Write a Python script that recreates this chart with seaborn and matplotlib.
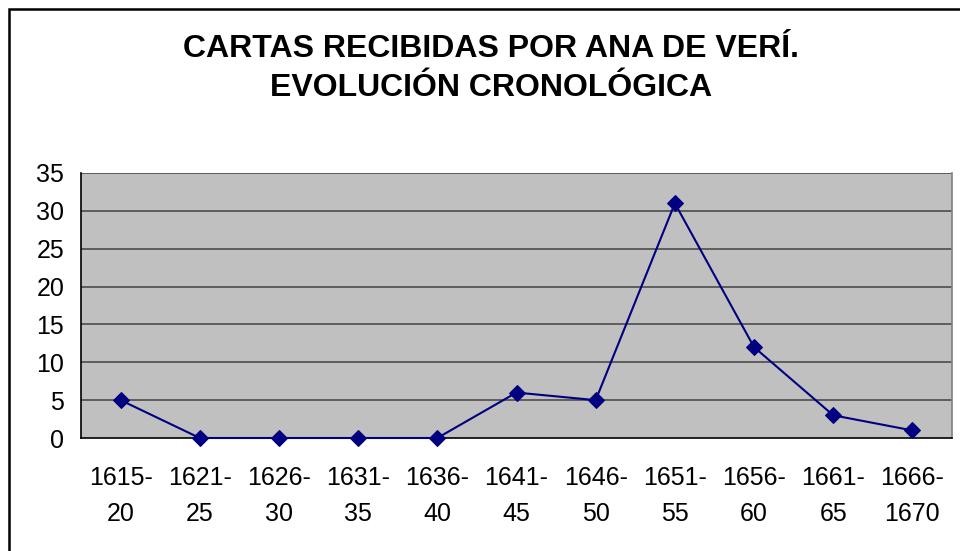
import matplotlib
matplotlib.use("Agg")
import matplotlib.pyplot as plt
import seaborn as sns
import pandas as pd
from matplotlib.patches import Rectangle
from matplotlib.ticker import FixedLocator

categories = ["1615-\n20", "1621-\n25", "1626-\n30", "1631-\n35", "1636-\n40", "1641-\n45",
              "1646-\n50", "1651-\n55", "1656-\n60", "1661-\n65", "1666-\n1670"]
values = [5, 0, 0, 0, 0, 6, 5, 31, 12, 3, 1]
yticks = [0, 5, 10, 15, 20, 25, 30, 35]
title = "CARTAS RECIBIDAS POR ANA DE VERÍ.\nEVOLUCIÓN CRONOLÓGICA"

sns.set_style("white")
plt.rcParams['font.family'] = ['Liberation Sans', 'DejaVu Sans']
plt.rcParams['text.color'] = 'black'
plt.rcParams['xtick.color'] = 'black'
plt.rcParams['ytick.color'] = 'black'

df = pd.DataFrame({"x": list(range(len(categories))), "y": values})

fig = plt.figure(figsize=(9.6, 5.51), dpi=100)
ax = fig.add_axes([81/960, 1-438/551, (952-81)/960, (438-173)/551])
ax.set_facecolor("#C0C0C0")

sns.lineplot(data=df, x="x", y="y", ax=ax, color="#000080", marker="D",
             markersize=8, markeredgecolor="#000080", linewidth=1.5, zorder=3,
             clip_on=False)

ax.set_xlim(-0.5, len(categories) - 0.5)
ax.set_ylim(0, 35)
ax.set_yticks(yticks)
ax.tick_params(axis="y", labelsize=18, length=8, width=1, color="#333333", pad=4,
               labelcolor="black")
for y in yticks[1:]:
    ax.axhline(y, color="#555555", linewidth=1.3, zorder=1)

ax.set_xticks(range(len(categories)))
ax.set_xticklabels(categories, fontsize=18, linespacing=1.65, color="black")
ax.tick_params(axis="x", which="major", length=0, pad=20)
ax.xaxis.set_minor_locator(FixedLocator([i - 0.5 for i in range(len(categories) + 1)]))
ax.tick_params(axis="x", which="minor", length=7, width=1, color="#222222")

for s in ["left", "bottom"]:
    ax.spines[s].set_color("black")
    ax.spines[s].set_linewidth(1.2)
ax.spines["top"].set_visible(False)
ax.spines["right"].set_color("#808080")
ax.spines["right"].set_linewidth(1.2)
ax.set_xlabel("")
ax.set_ylabel("")

fig.text(491/960, 1 - 68.5/551, title, ha="center", va="center", fontsize=23,
         fontweight="bold", linespacing=1.38, color="black")

fig.patches.append(Rectangle((9/960, -10/551), 970/960, 552/551, transform=fig.transFigure,
                             fill=False, edgecolor="black", linewidth=1.8))

fig.savefig("out.png", dpi=100)
